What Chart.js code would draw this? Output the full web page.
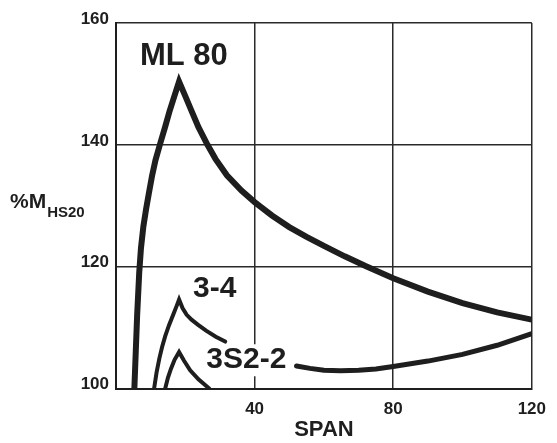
<!DOCTYPE html>
<html>
<head>
<meta charset="utf-8">
<title>%M HS20 vs span</title>
<script src="https://cdn.jsdelivr.net/npm/chart.js@4.4.1/dist/chart.umd.min.js"></script>
<style>
  html, body { margin: 0; padding: 0; background: #fff; }
  canvas { display: block; }
</style>
</head>
<body>
<canvas id="momentChart" width="557" height="443"></canvas>
<script>
// values: span vs moment as % of HS20
const ml80Span = [5.3, 5.7, 6.1, 6.7, 7.2, 7.9, 8.7, 9.5, 10.4, 11.4, 12.8, 14.2, 15.4, 16.8, 18.2, 20.0, 21.7, 23.8, 26.4, 28.7, 32.0, 36.2, 40.0, 45.0, 50.0, 55.0, 60.0, 66.0, 72.0, 80.0, 90.0, 100.0, 110.0, 120.0];
const ml80Pct  = [100, 106, 112, 119, 123, 126.6, 129.5, 132.1, 134.9, 137.5, 140.3, 143.0, 145.4, 147.9, 150.4, 148.0, 145.7, 142.9, 140.0, 137.7, 135.0, 132.5, 130.6, 128.4, 126.5, 124.9, 123.4, 121.7, 120.1, 118.1, 115.9, 114.0, 112.5, 111.3];

const t34Span = [11.0, 11.7, 12.5, 13.3, 14.2, 15.3, 16.5, 17.4, 18.2, 19.2, 20.4, 21.8, 23.6, 26.0, 28.8, 31.5];
const t34Pct  = [100, 102.6, 104.9, 106.8, 108.6, 110.4, 112.1, 113.4, 114.6, 113.2, 112.1, 111.3, 110.5, 109.5, 108.5, 107.7];

const s322PeakSpan = [14.2, 15.0, 15.9, 16.9, 18.2, 19.6, 21.4, 23.8, 26.9];
const s322PeakPct  = [100, 101.8, 103.3, 104.7, 106.0, 104.6, 103.0, 101.5, 100];

const s322Span = [52.1, 56, 60, 64.8, 70, 75, 80, 90, 100, 110, 120];
const s322Pct  = [103.7, 103.3, 103.0, 102.9, 103.0, 103.2, 103.6, 104.5, 105.6, 107.1, 109.0];

const xTicks = [40, 80, 120];
const yTicks = [100, 120, 140, 160];

const curveLabels = ['ML 80', '3-4', '3S2-2'];
const labelSpan = [19.6, 28.5, 37.6];
const labelPct  = [154.5, 116.35, 104.8];

const FONT = '"Liberation Sans", Arial, Helvetica, sans-serif';
const INK = '#1e1e1e';

const toPoints = (xs, ys) => xs.map((x, i) => ({ x: x, y: ys[i] }));

const curve = (xs, ys, width) => ({
    data: toPoints(xs, ys),
    showLine: true,
    borderColor: INK,
    borderWidth: width,
    borderJoinStyle: 'miter',
    borderCapStyle: 'round',
    pointRadius: 0,
    tension: 0,
    clip: 0
});

const curveLabelPlugin = {
    id: 'curveLabels',
    beforeDatasetsDraw(chart) {
        // white patch behind "3S2-2" breaks the 40 gridline like the original
        const { ctx, scales: { x, y } } = chart;
        ctx.save();
        ctx.font = 'bold 30px ' + FONT;
        const w = ctx.measureText(curveLabels[2]).width;
        ctx.fillStyle = '#fff';
        ctx.fillRect(x.getPixelForValue(labelSpan[2]) - w / 2 - 3, y.getPixelForValue(labelPct[2]) - 15, w + 6, 32);
        ctx.restore();
    },
    afterDatasetsDraw(chart) {
        const { ctx, scales: { x, y } } = chart;
        ctx.save();
        ctx.fillStyle = INK;
        ctx.textAlign = 'center';
        ctx.textBaseline = 'middle';
        curveLabels.forEach((txt, i) => {
            ctx.font = (i === 0 ? 'bold 31px ' : 'bold 30px ') + FONT;
            ctx.fillText(txt, x.getPixelForValue(labelSpan[i]), y.getPixelForValue(labelPct[i]));
        });
        ctx.restore();
    },
    afterDraw(chart) {
        // y axis title with subscript
        const ctx = chart.ctx;
        ctx.save();
        ctx.fillStyle = INK;
        ctx.textAlign = 'left';
        ctx.textBaseline = 'alphabetic';
        ctx.font = 'bold 21px ' + FONT;
        ctx.fillText('%M', 10, 208);
        const w = ctx.measureText('%M').width;
        ctx.font = 'bold 15px ' + FONT;
        ctx.fillText('HS20', 10 + w + 1, 217);
        ctx.restore();
    }
};

new Chart(document.getElementById('momentChart'), {
    type: 'scatter',
    data: {
        datasets: [
            curve(ml80Span, ml80Pct, 6),
            curve(t34Span, t34Pct, 4),
            curve(s322PeakSpan, s322PeakPct, 4),
            curve(s322Span, s322Pct, 5)
        ]
    },
    options: {
        responsive: false,
        animation: false,
        layout: { padding: { left: 0, right: 13.5, top: 23, bottom: 0 } },
        plugins: {
            legend: { display: false },
            tooltip: { enabled: false }
        },
        scales: {
            x: {
                type: 'linear',
                min: 0,
                max: 120,
                afterBuildTicks: (scale) => { scale.ticks = xTicks.map(v => ({ value: v })); },
                afterFit: (scale) => { scale.height = 54.5; },
                ticks: {
                    padding: 11,
                    color: INK,
                    font: { family: FONT, size: 17, weight: 'bold' }
                },
                grid: { color: '#2a2a2a', lineWidth: 1.5, drawTicks: false },
                border: { color: INK, width: 2 },
                title: {
                    display: true,
                    text: 'SPAN',
                    color: INK,
                    padding: { top: 0, bottom: 0 },
                    font: { family: FONT, size: 22, weight: 'bold' }
                }
            },
            y: {
                type: 'linear',
                min: 100,
                max: 160,
                afterBuildTicks: (scale) => { scale.ticks = yTicks.map(v => ({ value: v })); },
                afterFit: (scale) => { scale.width = 116; },
                ticks: {
                    padding: 7,
                    labelOffset: -4,
                    color: INK,
                    font: { family: FONT, size: 17, weight: 'bold' }
                },
                grid: { color: '#2a2a2a', lineWidth: 1.5, drawTicks: false },
                border: { color: INK, width: 2 }
            }
        }
    },
    plugins: [curveLabelPlugin]
});
</script>
</body>
</html>
